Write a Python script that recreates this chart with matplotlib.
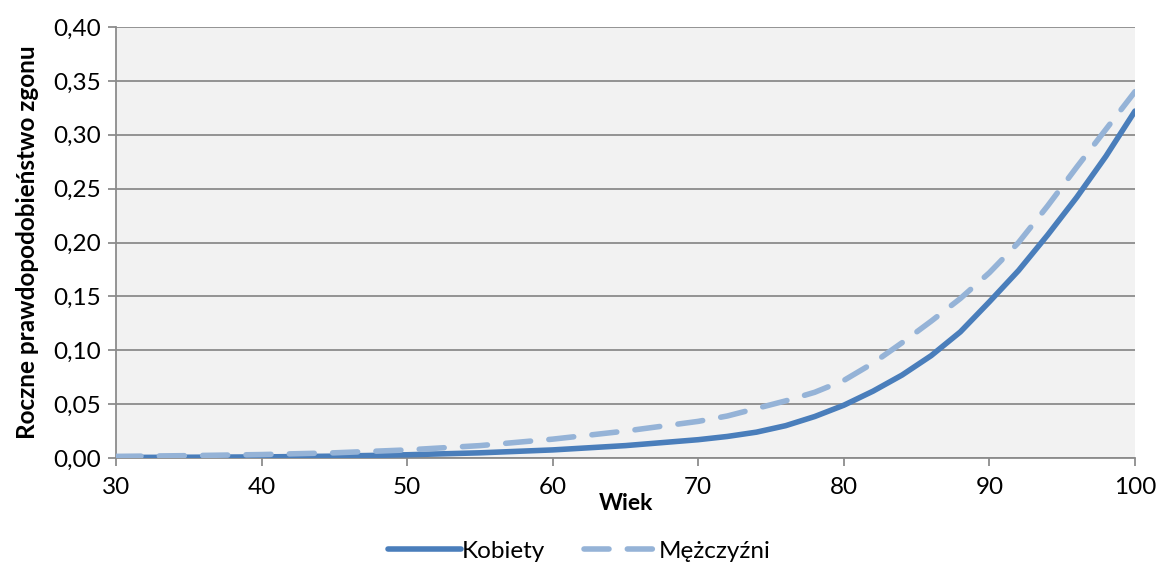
import matplotlib
matplotlib.use("Agg")
import matplotlib.pyplot as plt
from matplotlib.ticker import FuncFormatter, MultipleLocator
import numpy as np

plt.rcParams['font.family'] = ['Lato', 'DejaVu Sans']

age_k = [30, 35, 40, 45, 50, 55, 60, 65, 70, 72, 74, 76, 78, 80, 82, 84, 86, 88, 90, 92, 94, 96, 98, 100]
kobiety = [0.0005, 0.0007, 0.0010, 0.0017, 0.0030, 0.0048, 0.0075, 0.0115, 0.0170, 0.0200, 0.0240, 0.0300, 0.0385, 0.0490, 0.0620, 0.0770, 0.0950, 0.1170, 0.1450, 0.1740, 0.2070, 0.2420, 0.2800, 0.3220]

age_m = [30, 35, 40, 45, 50, 55, 60, 65, 70, 72, 74, 76, 78, 80, 82, 84, 86, 88, 90, 92, 94, 96, 98, 100]
mezczyzni = [0.0015, 0.0022, 0.0032, 0.0048, 0.0075, 0.0115, 0.0175, 0.0250, 0.0340, 0.0390, 0.0460, 0.0530, 0.0610, 0.0720, 0.0880, 0.1070, 0.1270, 0.1480, 0.1720, 0.2000, 0.2340, 0.2700, 0.3050, 0.3400]

x_ticks = [30, 40, 50, 60, 70, 80, 90, 100]

fig = plt.figure(figsize=(11.58, 5.65), dpi=100)
ax = fig.add_axes([116/1158, 1-458/565, (1135-116)/1158, (458-27)/565])
ax.set_facecolor('#f2f2f2')

ax.plot(age_k, kobiety, color='#4a7ebb', lw=4.0, solid_capstyle='round', solid_joinstyle='round', label='Kobiety', zorder=3)
ax.plot(age_m, mezczyzni, color='#95b3d7', lw=4.0, dashes=(4.5, 3.3), dash_capstyle='round', dash_joinstyle='round', label='Mężczyźni', zorder=3)

ax.set_xlim(30, 100)
ax.set_ylim(0, 0.40)
ax.set_xticks(x_ticks)
ax.yaxis.set_major_locator(MultipleLocator(0.05))
ax.yaxis.set_major_formatter(FuncFormatter(lambda v, p: f"{v:.2f}".replace('.', ',')))
ax.grid(axis='y', color='#8c8c8c', lw=1.3, zorder=1)
ax.set_axisbelow(True)
for s in ['top', 'right']:
    ax.spines[s].set_visible(False)
for s in ['left', 'bottom']:
    ax.spines[s].set_color('#8c8c8c')
    ax.spines[s].set_linewidth(1.3)
ax.tick_params(axis='both', direction='out', length=6, width=1.3, color='#8c8c8c', labelsize=17.5, labelcolor='black')
ax.tick_params(axis='y', pad=5)
ax.tick_params(axis='x', pad=8)

ax.set_xlabel('Wiek', fontsize=16.5, fontweight='bold', labelpad=-4)
ax.set_ylabel('Roczne prawdopodobieństwo zgonu', fontsize=17.5, fontweight='bold', labelpad=10)

leg = fig.legend(loc='center', bbox_to_anchor=(0.5, 1-551/565), ncol=2, frameon=False,
                 fontsize=17.5, handlelength=3.0, columnspacing=1.6, handletextpad=0.05)

fig.savefig('out.png', dpi=100)
